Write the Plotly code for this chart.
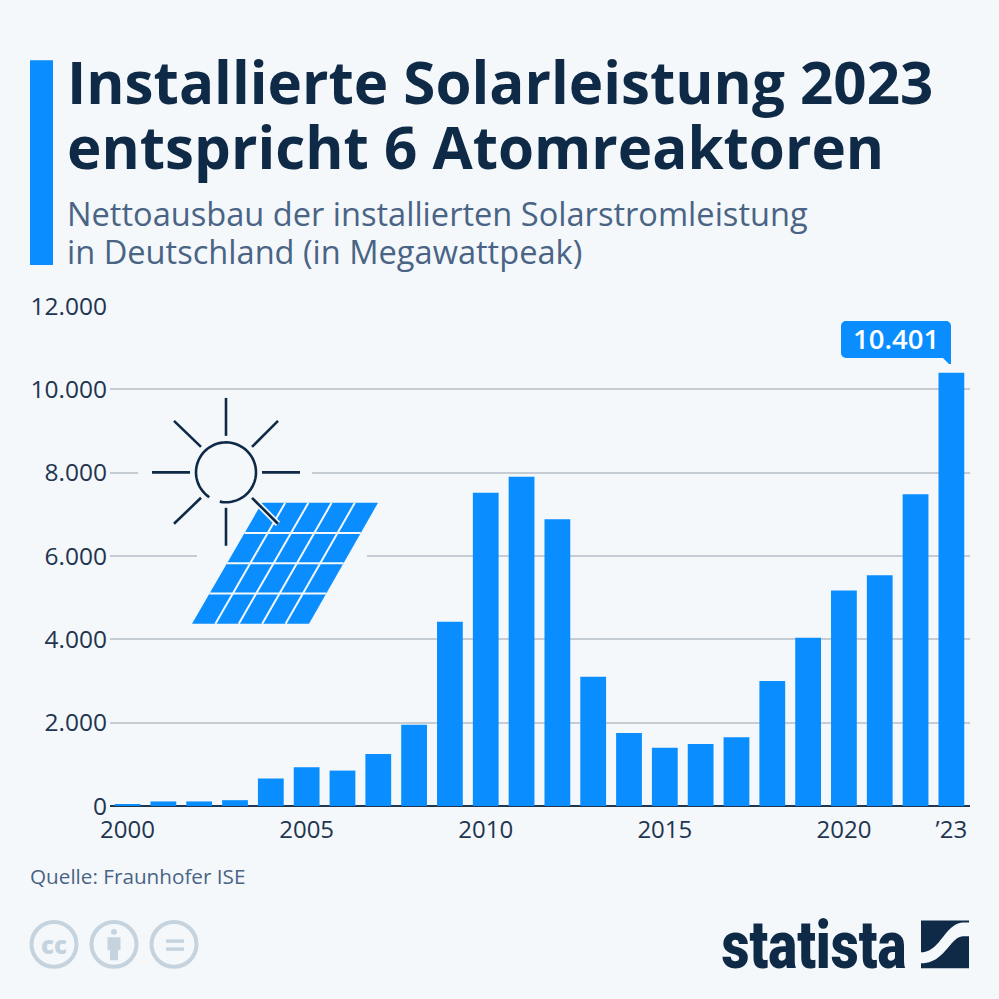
import math
import plotly.graph_objects as go

years = list(range(2000, 2024))
values = [40, 110, 110, 140, 660, 930, 850, 1250, 1950, 4420, 7520, 7900,
          6880, 3100, 1750, 1400, 1490, 1650, 3000, 4040, 5170, 5540, 7480, 10401]
tick_years = [2000, 2005, 2010, 2015, 2020, 2023]
tick_labels = ["2000", "2005", "2010", "2015", "2020", "’23"]
y_ticks = [0, 2000, 4000, 6000, 8000, 10000, 12000]

title_lines = ["Installierte Solarleistung 2023", "entspricht 6 Atomreaktoren"]
subtitle_lines = ["Nettoausbau der installierten Solarstromleistung",
                  "in Deutschland (in Megawattpeak)"]
source = "Quelle: Fraunhofer ISE"

BG = "#f4f8fb"
BLUE = "#0a8eff"
NAVY = "#0f2a47"
SLATE = "#4a6485"
GRID = "#c6ccd3"
CC = "#c5d3de"
FONT = "Open Sans"

# plot area in page pixels
L, R, T, B = 110, 970, 306, 806.5
W = H = 999


def px(x):
    return (x - L) / (R - L)


def py(y):
    return (B - y) / (B - T)


def path(points, close=True):
    d = "M" + " L".join(f"{px(x):.5f},{py(y):.5f}" for x, y in points)
    return d + (" Z" if close else "")


def poly(points, color):
    return dict(type="path", xref="paper", yref="paper", path=path(points),
                fillcolor=color, line_width=0, layer="above")


def line(x0, y0, x1, y1, color=NAVY, width=2.6):
    return dict(type="line", xref="paper", yref="paper", x0=px(x0), y0=py(y0),
                x1=px(x1), y1=py(y1), line=dict(color=color, width=width), layer="above")


def circle(cx, cy, r, color, width=0, fill=None):
    return dict(type="circle", xref="paper", yref="paper", x0=px(cx - r), x1=px(cx + r),
                y0=py(cy + r), y1=py(cy - r), fillcolor=fill or "rgba(0,0,0,0)",
                line=dict(color=color, width=width), layer="above")


def rect(x0, y0, x1, y1, color):
    return poly([(x0, y0), (x1, y0), (x1, y1), (x0, y1)], color)


def arc(cx, cy, r, a0, a1, n=60):
    return [(cx + r * math.cos(math.radians(a0 + (a1 - a0) * i / n)),
             cy - r * math.sin(math.radians(a0 + (a1 - a0) * i / n))) for i in range(n + 1)]


def bezier(p0, p1, p2, p3, n=24):
    out = []
    for i in range(n + 1):
        t = i / n
        out.append(tuple((1 - t) ** 3 * a + 3 * (1 - t) ** 2 * t * b + 3 * (1 - t) * t ** 2 * c + t ** 3 * d
                         for a, b, c, d in zip(p0, p1, p2, p3)))
    return out


def text(x, y, s, size, color, anchor="left", weight=400, family=FONT):
    return dict(xref="paper", yref="paper", x=px(x), y=py(y), text=s, showarrow=False,
                xanchor=anchor, yanchor="middle", borderpad=0,
                font=dict(size=size, color=color, family=family, weight=weight))


shapes = [
    rect(30, 60, 53, 265, BLUE),
    # gaps in the grid around the icon
    rect(138, 471, 312, 475, BG),
    rect(197, 555, 367, 559, BG),
]

# solar panel
tl, tr, bl, br = (262, 503), (378, 503), (192, 624), (309, 624)
shapes.append(poly([tl, tr, br, bl], BLUE))
for i in range(1, 4):
    f = i / 4
    shapes.append(line(tl[0] + (bl[0] - tl[0]) * f, 503 + 121 * f,
                       tr[0] + (br[0] - tr[0]) * f, 503 + 121 * f, BG, 2))
for i in range(1, 5):
    f = i / 5
    shapes.append(line(tl[0] + (tr[0] - tl[0]) * f, 503,
                       bl[0] + (br[0] - bl[0]) * f, 624, BG, 2))

# sun
sx, sy = 226, 472.5
shapes.append(line(252, 498, 278, 524, BG, 6))
rays = [(226, 398, 226, 436), (226, 508, 226, 546), (152, 472.5, 190, 472.5), (262, 472.5, 300, 472.5),
        (174, 421, 201, 447), (278, 421, 252, 447), (174, 524, 201, 498), (252, 498, 278, 524)]
for r in rays:
    shapes.append(line(*r))
shapes.append(dict(type="path", xref="paper", yref="paper",
                   path=path(arc(sx, sy, 30, -102, 236), close=False),
                   line=dict(color=NAVY, width=2.6), layer="above"))

# callout for the last bar
cl, cr, ct, cb, rad = 841, 951, 321, 358, 5
callout = (arc(cl + rad, ct + rad, rad, 180, 90, 8) + arc(cr - rad, ct + rad, rad, 90, 0, 8)
           + [(cr, 364), (949, 364), (943, cb)] + arc(cl + rad, cb - rad, rad, 270, 180, 8))
shapes.append(poly(callout, BLUE))

# licence icons
for cx in (54, 114, 174):
    shapes.append(circle(cx, 945, 22.5, CC, 4))
shapes.append(circle(114, 932.5, 3, CC, 0, CC))
shapes.append(poly([(107.5, 938), (120.5, 938), (120.5, 951), (118, 951), (118, 961),
                    (110, 961), (110, 951), (107.5, 951)], CC))
shapes.append(rect(166, 940, 184, 943.5, CC))
shapes.append(rect(166, 948, 184, 951.5, CC))

# logo mark
upper = [(921, 921), (969, 921), (969, 923), (963, 923)] + bezier((963, 923), (945, 924), (940, 953), (921, 953))
lower = [(969, 969), (921, 969), (921, 964)] + bezier((921, 964), (945, 964), (950, 937), (963, 937)) + [(969, 937)]
shapes.append(poly(upper, NAVY))
shapes.append(poly(lower, NAVY))

annotations = [
    text(66, 81, title_lines[0], 58.3, NAVY, weight=700),
    text(66, 146, title_lines[1], 58.3, NAVY, weight=700),
    text(66, 213, subtitle_lines[0], 32.6, SLATE),
    text(66, 251, subtitle_lines[1], 32.6, SLATE),
    text(896, 339, f"{values[-1]:,}".replace(",", "."), 27.5, "#ffffff", "center", 600),
    text(29, 877, source, 20.7, SLATE),
    text(54, 945, "cc", 24, CC, "center", 800),
    text(813.5, 946, "statista", 66, NAVY, "center", 900, "Roboto"),
]

fig = go.Figure(go.Bar(x=years, y=values, width=0.72, marker=dict(color=BLUE, line_width=0),
                       hoverinfo="skip"))
fig.update_layout(
    width=W, height=H, paper_bgcolor=BG, plot_bgcolor=BG, showlegend=False,
    margin=dict(l=L, r=W - R, t=T, b=H - B, pad=0),
    separators=",.", font=dict(family=FONT, size=24, color="#1f3550"),
    shapes=shapes, annotations=annotations,
)
fig.update_xaxes(range=[1999.51, 2023.52], tickvals=tick_years, ticktext=tick_labels,
                 showgrid=False, showline=False, zeroline=False, ticks="", ticklen=0,
                 ticklabelstandoff=7, tickfont=dict(size=24, color="#1f3550"))
fig.update_yaxes(range=[0, 12000], tickvals=y_ticks, tickformat=",", showgrid=True,
                 gridcolor=GRID, gridwidth=1.5, zeroline=True, zerolinecolor="#1f3550",
                 zerolinewidth=2, showline=False, ticks="", ticklabelstandoff=2,
                 tickfont=dict(size=24.5, color="#1f3550"))

# page margin off, and squeeze the logo word to its real width
post = """
document.body.style.margin = '0';
document.querySelectorAll('.annotation-text').forEach(function (t) {
  if (t.textContent === 'statista') {
    t.setAttribute('textLength', '185');
    t.setAttribute('lengthAdjust', 'spacingAndGlyphs');
  }
});
"""
fig.write_html("out.html", post_script=post, config={"displayModeBar": False})
